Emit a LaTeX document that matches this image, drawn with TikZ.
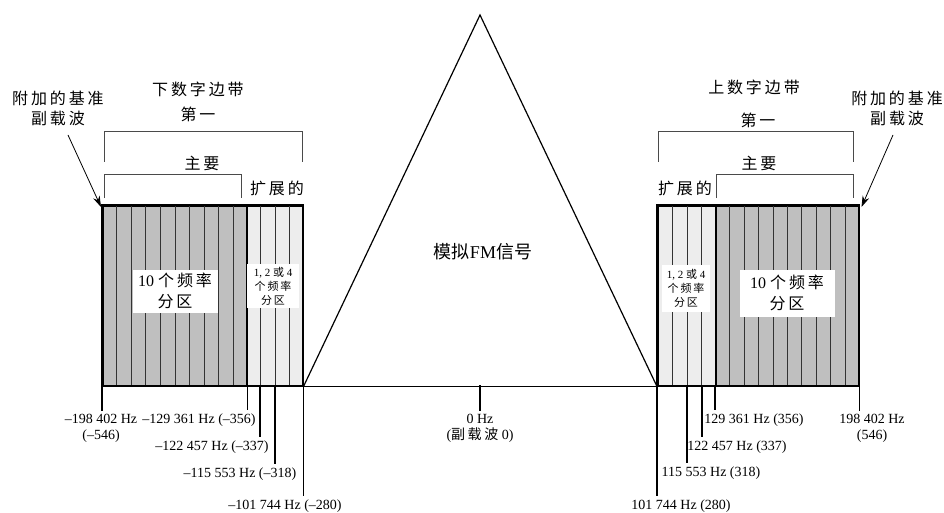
\documentclass[tikz,border=0pt]{standalone}
\usepackage{fontspec}
\setmainfont{Liberation Serif}
\newfontfamily\cjk[LetterSpace=18]{Noto Sans CJK SC}
\newfontfamily\cjktight{Noto Sans CJK SC}
\usetikzlibrary{arrows.meta,positioning,calc}
\definecolor{cMain}{HTML}{BFBFBF}
\definecolor{cExt}{HTML}{EDEDED}
\definecolor{cBrk}{HTML}{4A4A4A}
\newcommand\zh[1]{{\cjk #1}}
\tikzset{
  band/.style={draw=black, line width=1.5pt, anchor=north west, minimum height=180pt,
    inner sep=0pt},
  stripe/.style={draw=black!80, line width=0.5pt},
  brk/.style={draw=cBrk, line width=0.8pt},
  axisline/.style={draw=black, line width=1.2pt},
  tick/.style={draw=black, line width=1.8pt},
  lbl/.style={font=\fontsize{16}{23}\selectfont\cjk, inner sep=0pt, align=center},
  hz/.style={font=\fontsize{14}{16}\selectfont, inner sep=3pt, align=center},
  tag/.style={fill=white, align=center, inner sep=1pt},
  ptr/.style={-{Stealth[length=11pt,width=7pt]}, line width=0.8pt},
}
\begin{document}
\begin{tikzpicture}[x=1pt,y=-1pt]
    \useasboundingbox (0,0) rectangle (944,513);
    % --- bands ---
    \node[band, fill=cMain, minimum width=144pt] (mainL) at (102,205) {};
    \node[band, fill=cExt, minimum width=56pt] (extL) at (246,205) {};
    \node[band, fill=cExt, minimum width=58pt] (extR) at (657,205) {};
    \node[band, fill=cMain, minimum width=143pt] (mainR) at (715,205) {};
    \foreach \i in {1,...,9} {
      \draw[stripe] ($(mainL.north west)!\i/10!(mainL.north east)$) -- ++(0,180);
      \draw[stripe] ($(mainR.north west)!\i/10!(mainR.north east)$) -- ++(0,180);
    }
    \foreach \i in {1,2,3} {
      \draw[stripe] ($(extL.north west)!\i/4!(extL.north east)$) -- ++(0,180);
      \draw[stripe] ($(extR.north west)!\i/4!(extR.north east)$) -- ++(0,180);
    }
    \draw[line width=1.5pt] (mainL.north west) rectangle (extL.south east);
    \draw[line width=1.5pt] (extR.north west) rectangle (mainR.south east);
    % --- partition tags ---
    \node[tag, minimum width=85pt, minimum height=43pt,
      font=\fontsize{16}{21}\selectfont] (tagML) at (175,291) {10 \zh{个频率}\\\zh{分区}};
    \node[tag, minimum width=52pt, minimum height=44pt,
      font=\fontsize{11}{14}\selectfont] (tagEL) at (273,286) {1, 2 \zh{或} 4\\\zh{个频率}\\\zh{分区}};
    \node[tag, minimum width=48pt, minimum height=47pt,
      font=\fontsize{11}{14}\selectfont] (tagER) at (686,288) {1, 2 \zh{或} 4\\\zh{个频率}\\\zh{分区}};
    \node[tag, minimum width=95pt, minimum height=47pt,
      font=\fontsize{16}{21}\selectfont] (tagMR) at (787,293) {10 \zh{个频率}\\\zh{分区}};
    % --- analog signal ---
    \coordinate (apex) at (480,15);
    \coordinate (zero) at (480,385);
    \draw[axisline] (mainL.south west) -- (mainR.south east);
    \draw[axisline, line join=miter] (extL.south east) -- (apex) -- (extR.south west);
    \node[font=\fontsize{18}{20}\selectfont] (fm) at (483,252) {{\cjktight 模拟}FM{\cjktight 信号}};
    % --- brackets and headings ---
    \draw[brk] (104,162) -- (104,131) -- (302,131) -- (302,162);
    \draw[brk] (104,198) -- (104,174) -- (241,174) -- (241,198);
    \draw[brk] (658,162) -- (658,131) -- (853,131) -- (853,162);
    \draw[brk] (716,198) -- (716,174) -- (853,174) -- (853,198);
    \node[lbl] (lsb) at (198,89) {下数字边带};
    \node[lbl] (lsb1) at (198,114) {第一};
    \node[lbl] (usb) at (754,87) {上数字边带};
    \node[lbl] (usb1) at (758,120) {第一};
    \node[lbl] (priL) at (202,163) {主要};
    \node[lbl] (priR) at (759,163) {主要};
    \node[lbl] (extLt) at (277,188) {扩展的};
    \node[lbl] (extRt) at (685,188) {扩展的};
    \node[lbl, font=\fontsize{16}{20}\selectfont\cjk] (refL) at (58,108) {附加的基准\\副载波};
    \node[lbl, font=\fontsize{16}{20}\selectfont\cjk] (refR) at (897,108) {附加的基准\\副载波};
    \coordinate (refLs) at (68,135);
    \coordinate (refRs) at (893,135);
    \draw[ptr] (refLs) -- ($(mainL.north west)+(-1,2)$);
    \draw[ptr] (refRs) -- ($(mainR.north east)+(2,2)$);
    % --- frequency ticks ---
    \node[hz] (fL0) at (101,428) {–198 402 Hz\\(–546)};
    \node[hz] (fL1) at (199,420) {–129 361 Hz (–356)};
    \node[hz] (fL2) at (212,447) {–122 457 Hz (–337)};
    \node[hz] (fL3) at (240,474) {–115 553 Hz (–318)};
    \node[hz] (fL4) at (285,506) {–101 744 Hz (–280)};
    \node[hz] (f0) at (480,428) {0 Hz\\(\zh{副载波} 0)};
    \node[hz] (fR1) at (754,420) {129 361 Hz (356)};
    \node[hz] (fR2) at (737,447) {122 457 Hz (337)};
    \node[hz] (fR3) at (711,473) {115 553 Hz (318)};
    \node[hz] (fR4) at (681,506) {101 744 Hz (280)};
    \node[hz] (fR0) at (872,428) {198 402 Hz\\(546)};
    \coordinate (tL0) at (mainL.south west);
    \coordinate (tL1) at (mainL.south east);
    \coordinate (tL2) at ($(extL.south west)!1/4!(extL.south east)$);
    \coordinate (tL3) at ($(extL.south west)!2/4!(extL.south east)$);
    \coordinate (tL4) at (extL.south east);
    \coordinate (tR4) at (extR.south west);
    \coordinate (tR3) at ($(extR.south west)!2/4!(extR.south east)$);
    \coordinate (tR2) at ($(extR.south west)!3/4!(extR.south east)$);
    \coordinate (tR1) at (mainR.south west);
    \coordinate (tR0) at (mainR.south east);
    \foreach \t/\f in {tL0/fL0,tL1/fL1,tL2/fL2,tL3/fL3,tL4/fL4,zero/f0,
                       tR1/fR1,tR2/fR2,tR3/fR3,tR4/fR4,tR0/fR0}
      \draw[tick] (\t) -- (\t |- \f.north);
\end{tikzpicture}
\end{document}
